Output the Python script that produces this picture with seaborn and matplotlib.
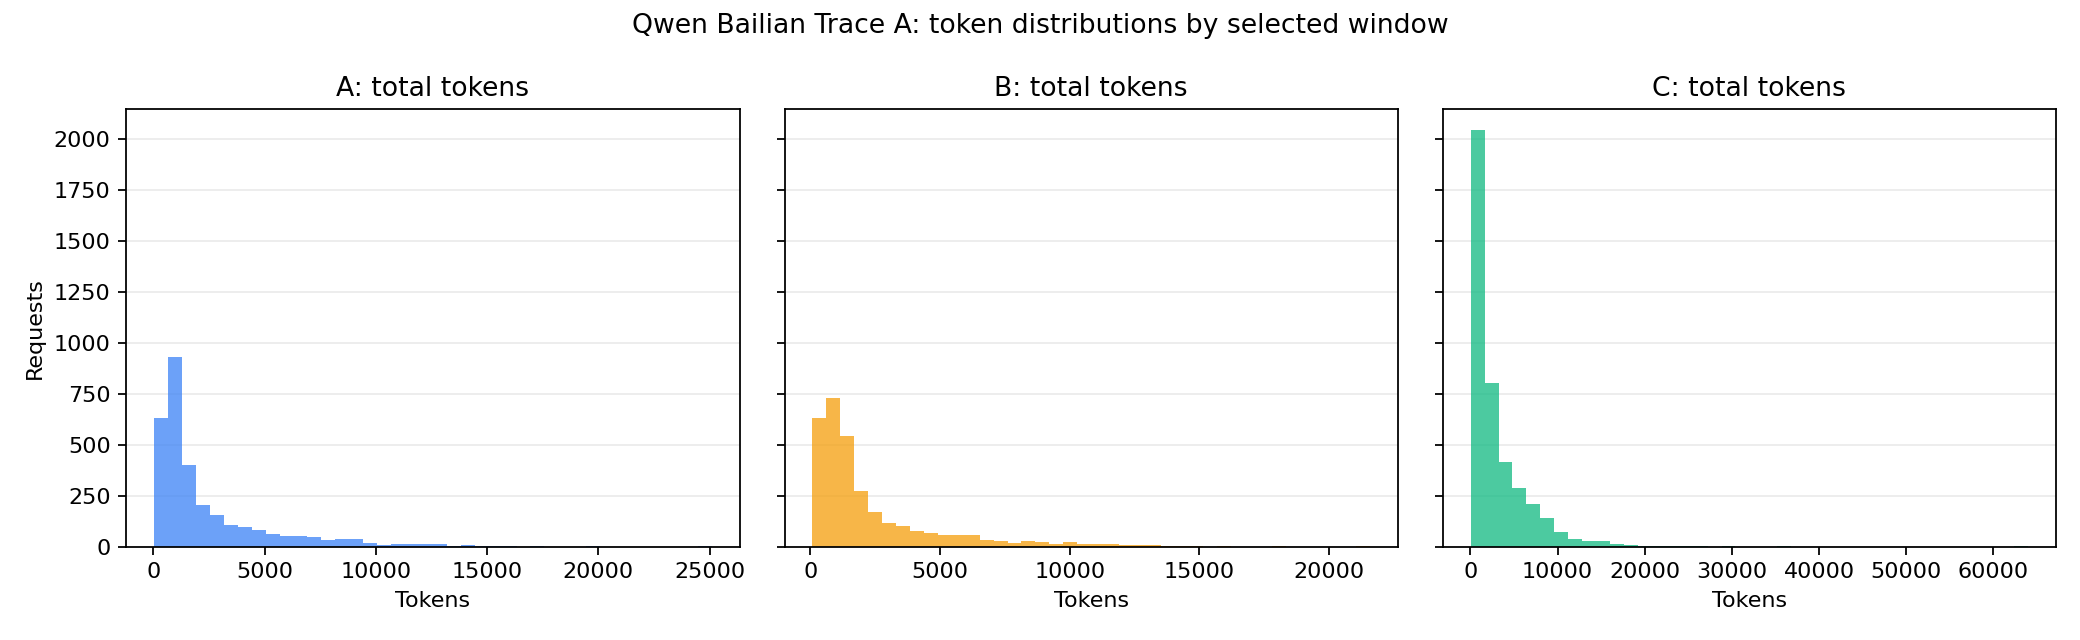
import numpy as np
import pandas as pd
import matplotlib
matplotlib.use("Agg")
import matplotlib.pyplot as plt
import seaborn as sns

# panel titles and colours
titles = ["A: total tokens", "B: total tokens", "C: total tokens"]
colors = ["#3b82f6", "#f59e0b", "#10b981"]

# histogram ranges (min / max tokens), 40 bins each
a_range = (33, 25090)
b_range = (84, 21570)
c_range = (30, 64000)

# request counts per bin
a_counts = [631, 930, 400, 204, 155, 106, 96, 82, 62, 52,
            52, 46, 33, 38, 38, 18, 8, 13, 13, 13,
            13, 3, 8, 2, 1, 1, 0, 1, 0, 0,
            0, 1, 0, 0, 0, 0, 0, 0, 0, 1]
b_counts = [631, 729, 542, 273, 170, 116, 101, 77, 67, 57,
            57, 57, 33, 28, 18, 28, 23, 13, 23, 13,
            13, 13, 8, 8, 8, 2, 1, 1, 0, 1,
            0, 0, 0, 1, 0, 0, 0, 0, 0, 1]
c_counts = [2047, 802, 415, 288, 209, 140, 72, 38, 28, 28,
            13, 8, 3, 2, 1, 1, 1, 0, 1, 0,
            0, 0, 1, 0, 0, 0, 0, 0, 0, 0,
            0, 0, 0, 0, 0, 0, 0, 0, 0, 1]

panels = [(a_range, a_counts), (b_range, b_counts), (c_range, c_counts)]

fig, axes = plt.subplots(1, 3, figsize=(13, 4), dpi=160, sharey=True)

for ax, (rng, counts), title, color in zip(axes, panels, titles, colors):
    edges = np.linspace(rng[0], rng[1], len(counts) + 1)
    df = pd.DataFrame({"tokens": (edges[:-1] + edges[1:]) / 2, "n": counts})
    sns.histplot(data=df, x="tokens", weights="n", bins=edges.tolist(), ax=ax,
                 color=color, alpha=0.75, linewidth=0)
    ax.set_title(title, fontsize=12)
    ax.set_xlabel("Tokens")
    ax.set_ylabel("")
    ax.yaxis.grid(True, color="#b0b0b0", alpha=0.25, linewidth=0.8)
    ax.set_axisbelow(True)

axes[0].set_ylabel("Requests")
fig.suptitle("Qwen Bailian Trace A: token distributions by selected window", fontsize=12)
fig.subplots_adjust(left=0.0607, right=0.9885, top=0.8297, bottom=0.1458, wspace=0.0733)
plt.savefig("out.png")
